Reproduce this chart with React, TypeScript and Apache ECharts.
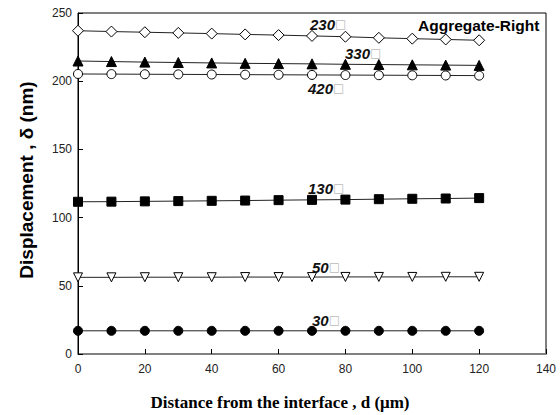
import React, { useEffect, useRef } from "react";
import * as echarts from "echarts";

const xValues = [0, 10, 20, 30, 40, 50, 60, 70, 80, 90, 100, 110, 120];
const s230 = [237, 236.4, 235.9, 235.4, 234.9, 234.3, 233.8, 233.2, 232.6, 231.8, 231.2, 230.6, 230];
const s330 = [214.8, 214.4, 214, 213.7, 213.4, 213.1, 212.9, 212.7, 212.4, 212.2, 212, 211.8, 211.6];
const s420 = [205.3, 205.2, 205.1, 205, 204.9, 204.8, 204.7, 204.6, 204.5, 204.4, 204.3, 204.2, 204.1];
const s130 = [111.6, 111.7, 111.9, 112.1, 112.3, 112.5, 112.8, 113, 113.2, 113.5, 113.8, 114, 114.3];
const s50 = [56.2, 56.2, 56.3, 56.3, 56.3, 56.4, 56.4, 56.4, 56.5, 56.5, 56.5, 56.6, 56.6];
const s30 = [17, 17, 17, 17, 17, 17, 17, 17, 17, 17, 17, 17, 17];

const seriesLabels = ["230", "330", "420", "130", "50", "30"];
const yTitle = "Displacement , δ (nm)";
const xTitle = "Distance from the interface , d (μm)";
const noteText = "Aggregate-Right";

const pair = (ys: number[]) => xValues.map((x, i) => [x, ys[i]]);

export default function App() {
  const ref = useRef<HTMLDivElement>(null);
  useEffect(() => {
    document.body.style.margin = "0";
    const chart = echarts.init(ref.current!, null, { renderer: "svg" });
    const line = { color: "#222", width: 1 };
    const mk = (name: string, ys: number[], symbol: string, fill: string, size: number, rotate = 0) => ({
      name,
      type: "line",
      data: pair(ys),
      symbol,
      symbolSize: size,
      symbolRotate: rotate,
      showAllSymbol: true,
      lineStyle: line,
      itemStyle: { color: fill, borderColor: "#000", borderWidth: 1 },
      z: 3,
    });
    const lbl = (text: string, x: number, y: number) => ({
      type: "text",
      x,
      y,
      style: {
        text: `{n|${text}}{b|□}`,
        verticalAlign: "middle",
        rich: {
          n: { fontFamily: "Liberation Sans, Arial", fontWeight: "bold", fontStyle: "italic", fontSize: 15, fill: "#111" },
          b: { fontFamily: "DejaVu Sans", fontSize: 12, fill: "#bbb" },
        },
      },
      z: 10,
    });
    chart.setOption({
      animation: false,
      grid: { left: 78, right: 14, top: 13, bottom: 61, show: true, borderColor: "#000", borderWidth: 1 },
      xAxis: {
        type: "value",
        min: 0,
        max: 140,
        interval: 20,
        splitLine: { show: false },
        axisLine: { show: true, onZero: false, lineStyle: { color: "#808080", width: 2 } },
        axisTick: { show: true, inside: true, length: 5, lineStyle: { color: "#000" } },
        axisLabel: { color: "#222", fontSize: 12, fontFamily: "Liberation Sans, Arial", margin: 9 },
      },
      yAxis: {
        type: "value",
        min: 0,
        max: 250,
        interval: 50,
        splitLine: { show: false },
        axisLine: { show: true, onZero: false, lineStyle: { color: "#000", width: 1 } },
        axisTick: { show: true, inside: true, length: 5, lineStyle: { color: "#000" } },
        axisLabel: { color: "#222", fontSize: 12, fontFamily: "Liberation Sans, Arial", margin: 6 },
      },
      series: [
        mk("230", s230, "diamond", "#fff", 11),
        mk("330", s330, "triangle", "#000", 10),
        mk("420", s420, "circle", "#fff", 9),
        mk("130", s130, "rect", "#000", 9),
        mk("50", s50, "triangle", "#fff", 9, 180),
        mk("30", s30, "circle", "#000", 9),
      ],
      graphic: [
        lbl(seriesLabels[0], 310, 24),
        lbl(seriesLabels[1], 345, 53),
        lbl(seriesLabels[2], 308, 88),
        lbl(seriesLabels[3], 308, 188),
        lbl(seriesLabels[4], 312, 267),
        lbl(seriesLabels[5], 312, 320),
        {
          type: "text",
          x: 418,
          y: 25,
          style: {
            text: noteText,
            verticalAlign: "middle",
            fontFamily: "Liberation Sans, Arial",
            fontWeight: "bold",
            fontSize: 15.5,
            fill: "#000",
          },
          z: 10,
        },
        {
          type: "text",
          x: 280,
          y: 402,
          style: {
            text: xTitle,
            align: "center",
            verticalAlign: "middle",
            fontFamily: "Liberation Serif, Times New Roman",
            fontWeight: "bold",
            fontSize: 17,
            fill: "#000",
          },
        },
        {
          type: "text",
          x: 26,
          y: 180,
          rotation: Math.PI / 2,
          style: {
            text: yTitle,
            align: "center",
            verticalAlign: "middle",
            fontFamily: "Liberation Sans, Arial",
            fontWeight: "bold",
            fontSize: 19,
            fill: "#000",
          },
        },
      ],
    });
    return () => chart.dispose();
  }, []);
  return <div ref={ref} style={{ width: 560, height: 415 }} />;
}
